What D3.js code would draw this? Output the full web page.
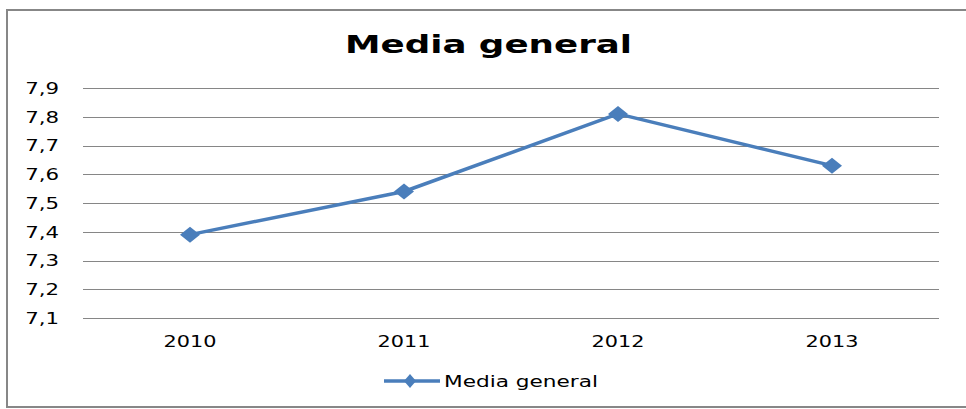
<!DOCTYPE html>
<html><head><meta charset="utf-8">
<script src="https://cdn.jsdelivr.net/npm/d3@7"></script>
<style>body{margin:0;background:#fff}svg{display:block}</style>
</head><body>
<svg id="c" width="966" height="409"></svg>
<script>
const categories = ["2010", "2011", "2012", "2013"];
const values = [7.39, 7.54, 7.81, 7.63];
const yTicks = [7.1, 7.2, 7.3, 7.4, 7.5, 7.6, 7.7, 7.8, 7.9];
const seriesName = "Media general";
const title = "Media general";

const svg = d3.select("#c");
const W = 966;
const color = "#4a7ebb";
const font = "DejaVu Sans, Verdana, sans-serif";

// frame
svg.append("rect").attr("x", 7).attr("y", 10).attr("width", W).attr("height", 397)
  .attr("fill", "#fff").attr("stroke", "#878787").attr("stroke-width", 2);

const x = d3.scaleBand().domain(categories).range([83, 939]);
const y = d3.scaleLinear().domain([7.1, 7.9]).range([318, 88]);

// gridlines
svg.append("g").selectAll("line").data(yTicks).join("line")
  .attr("x1", 83).attr("x2", 939)
  .attr("y1", d => Math.round(y(d)) + 0.5).attr("y2", d => Math.round(y(d)) + 0.5)
  .attr("stroke", "#868686").attr("stroke-width", 1);

// y axis labels
const yAxis = d3.axisLeft(y).tickValues(yTicks).tickSize(0).tickPadding(0)
  .tickFormat(d => d3.format(".1f")(d).replace(".", ","));
const gy = svg.append("g").attr("transform", "translate(59,0)").call(yAxis);
gy.select(".domain").remove();
gy.selectAll("text").attr("font-family", font)
  .attr("font-size", 15).attr("fill", "#000").attr("dy", "0.36em")
  .attr("transform", "scale(1.42,1)");

// x axis labels
const xAxis = d3.axisBottom(x).tickSize(0).tickPadding(0);
const gx = svg.append("g").attr("transform", "translate(0,336)").call(xAxis);
gx.select(".domain").remove();
gx.selectAll("text").attr("font-family", font)
  .attr("font-size", 16).attr("fill", "#000")
  .attr("transform", "scale(1.3,1)");

// title
svg.append("text").attr("x", 345).attr("y", 53)
  .attr("font-family", font).attr("font-weight", "bold")
  .attr("font-size", 25).attr("fill", "#000")
  .attr("textLength", 287).attr("lengthAdjust", "spacingAndGlyphs").text(title);

// diamond symbol (wider than tall, as in the reference)
const diamondType = (rx, ry) => ({
  draw(ctx) { ctx.moveTo(-rx, 0); ctx.lineTo(0, -ry); ctx.lineTo(rx, 0); ctx.lineTo(0, ry); ctx.closePath(); }
});

// line
const cx = c => x(c) + x.bandwidth() / 2;
const line = d3.line().x((d, i) => cx(categories[i])).y(d => y(d));
svg.append("path").datum(values).attr("d", line).attr("fill", "none")
  .attr("stroke", color).attr("stroke-width", 3.5).attr("stroke-linejoin", "round");

svg.append("g").selectAll("path").data(values).join("path")
  .attr("transform", (d, i) => `translate(${cx(categories[i])},${y(d)})`)
  .attr("d", d3.symbol().type(diamondType(10, 8))()).attr("fill", color);

// legend
const lg = svg.append("g");
lg.append("line").attr("x1", 384).attr("x2", 440).attr("y1", 381).attr("y2", 381)
  .attr("stroke", color).attr("stroke-width", 3.5);
lg.append("path").attr("transform", "translate(410,381)")
  .attr("d", d3.symbol().type(diamondType(6, 7))()).attr("fill", color);
lg.append("text").attr("x", 444).attr("y", 387).attr("font-family", font)
  .attr("font-size", 16).attr("fill", "#000")
  .attr("textLength", 154).attr("lengthAdjust", "spacingAndGlyphs").text(seriesName);
</script>
</body></html>
